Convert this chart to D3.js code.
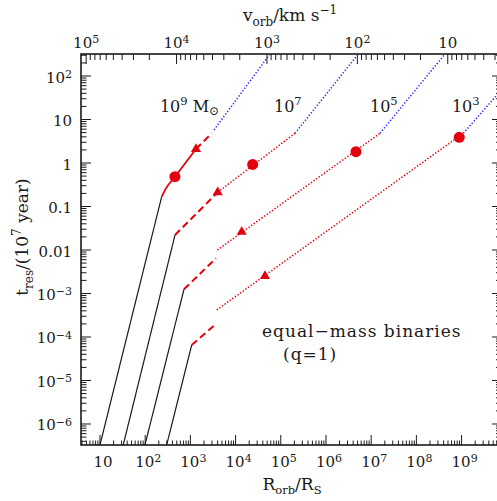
<!DOCTYPE html>
<html><head><meta charset="utf-8">
<script src="https://cdn.jsdelivr.net/npm/d3@7"></script>
<style>
html,body{margin:0;padding:0;background:#fff;}
svg{display:block;font-family:"DejaVu Serif",serif;}
</style></head><body>
<svg id="chart" width="497" height="501"></svg>
<script>
// Residence time t_res (units of 1e7 yr) against orbital separation R_orb/R_S
// for equal-mass black-hole binaries of total mass 1e9, 1e7, 1e5, 1e3 Msun.
const massExponents = [9, 7, 5, 3];

// gravitational-wave dominated inspiral (black, solid)
const gwTrack = [
  [[10, 3.3e-7], [232, 0.168]],
  [[32.7, 3.3e-7], [456, 0.0221]],
  [[99, 3.3e-7], [721, 1.25e-3]],
  [[299, 3.3e-7], [1069, 6.55e-5]]
];
// 1e9 Msun: disc-driven stage drawn solid
const solidTrack9 = [[232, 0.168], [282, 0.251], [456, 0.484], [1330, 2.10]];
// disc-driven stage (red, dashed)
const dashedTrack = [
  [[1330, 2.10], [2958, 4.82]],
  [[456, 0.0221], [4018, 0.212]],
  [[721, 1.25e-3], [3681, 6.44e-3]],
  [[1069, 6.55e-5], [3681, 1.99e-4]]
];
// outer disc stage (red, dotted)
const dottedTrack = [
  [],
  [[4018, 0.212], [2.06e5, 4.82]],
  [[3936, 0.01], [1.567e7, 4.82]],
  [[3819, 4.18e-4], [1.09e9, 4.82]]
];
// beyond the disc (blue, dotted)
const outerTrack = [
  [[3327, 5.74], [63100, 364]],
  [[2.06e5, 4.82], [6.3e6, 414]],
  [[1.567e7, 4.82], [5.6e8, 450]],
  [[1.09e9, 4.82], [1e10, 66]]
];
const circlePoints = [[456, 0.484], [23880, 0.93], [4.61e6, 1.82], [8.89e8, 3.9]];
const trianglePoints = [[1330, 2.10], [4018, 0.212], [13650, 0.026], [44670, 2.52e-3]];
// where each mass label starts (R, t of its baseline)
const massLabelAnchor = [[212, 15.1], [70800, 15.1], [9.4e6, 15.1], [6.1e8, 15.1]];

// axis decades
const rTickExps = [1, 2, 3, 4, 5, 6, 7, 8, 9];
const tTickExps = [2, 1, 0, -1, -2, -3, -4, -5, -6];
const vTickExps = [5, 4, 3, 2, 1];

// orbital speed for a given R/R_S (km/s)
const C_KMS = 2.998e5, V_K = 0.55;
const vOf = R => C_KMS * Math.sqrt(V_K / R);

const L = 81, Rt = 501, T = 54, B = 445;
const svg = d3.select("#chart");
const x = d3.scaleLog().domain([10 ** 0.580, 10 ** 9.872]).range([L, Rt]);
const y = d3.scaleLog().domain([10 ** -6.483, 10 ** 2.506]).range([B, T]);
const xv = d3.scaleLog().domain([vOf(x.domain()[0]), vOf(x.domain()[1])]).range([L, Rt]);

const RED = "#e3000f", BLUE = "#2f2fff", INK = "#1a1a1a";

svg.append("defs").append("clipPath").attr("id", "plot")
  .append("rect").attr("x", L).attr("y", T).attr("width", Rt - L).attr("height", B - T);

function logTicks(scale) {
  const [a, b] = d3.extent(scale.domain());
  const out = [];
  for (let d = Math.floor(Math.log10(a)) - 1; d <= Math.ceil(Math.log10(b)); d++)
    for (let k = 1; k <= 9; k++) {
      const v = k * 10 ** d;
      if (v >= a * 0.9999 && v <= b * 1.0001) out.push({ v, major: k === 1 });
    }
  return out;
}

const g = svg.append("g");
// ticks
const tk = g.append("g").attr("stroke", INK).attr("stroke-width", 1);
logTicks(x).forEach(t => {
  tk.append("line").attr("x1", x(t.v)).attr("x2", x(t.v)).attr("y1", B).attr("y2", B - (t.major ? 10 : 4.5));
});
logTicks(xv).forEach(t => {
  tk.append("line").attr("x1", xv(t.v)).attr("x2", xv(t.v)).attr("y1", T).attr("y2", T + (t.major ? 10 : 6));
});
logTicks(y).forEach(t => {
  tk.append("line").attr("y1", y(t.v)).attr("y2", y(t.v)).attr("x1", L).attr("x2", L + (t.major ? 10 : 5.5));
  tk.append("line").attr("y1", y(t.v)).attr("y2", y(t.v)).attr("x1", Rt).attr("x2", Rt - (t.major ? 9 : 5));
});
// frame
g.append("rect").attr("x", L).attr("y", T).attr("width", Rt - L).attr("height", B - T)
  .attr("fill", "none").attr("stroke", INK).attr("stroke-width", 1.6);

// tick labels
function powLabel(sel, e) {
  const plain = { 0: "1", 1: "10", [-1]: "0.1", [-2]: "0.01" };
  if (plain[e] !== undefined) { sel.text(plain[e]); return; }
  sel.append("tspan").text("10");
  sel.append("tspan").attr("dy", "-0.45em").attr("font-size", 11).text(String(e).replace("-", "\u2212"));
}
const lab = g.append("g").attr("font-size", 15).attr("fill", INK);
rTickExps.forEach(e => {
  powLabel(lab.append("text").attr("x", x(10 ** e) + 3).attr("y", 467).attr("text-anchor", "middle"), e);
});
vTickExps.forEach(e => {
  powLabel(lab.append("text").attr("x", xv(10 ** e)).attr("y", 48).attr("text-anchor", "middle"), e);
});
tTickExps.forEach(e => {
  powLabel(lab.append("text").attr("x", 72).attr("y", y(10 ** e) + 6.5).attr("text-anchor", "end"), e);
});

// axis titles
const tt = g.append("g").attr("font-size", 17).attr("fill", INK);
{
  const t = tt.append("text").attr("x", 290).attr("y", 21).attr("text-anchor", "middle");
  t.append("tspan").text("v");
  t.append("tspan").attr("dy", 5).attr("font-size", 12).text("orb");
  t.append("tspan").attr("dy", -5).text("/km s");
  t.append("tspan").attr("dy", -7).attr("font-size", 12).text("\u22121");
}
{
  const t = tt.append("text").attr("x", 292).attr("y", 490).attr("text-anchor", "middle");
  t.append("tspan").text("R");
  t.append("tspan").attr("dy", 4).attr("font-size", 11.5).text("orb");
  t.append("tspan").attr("dy", -4).text("/R");
  t.append("tspan").attr("dy", 4).attr("font-size", 11.5).text("S");
}
{
  const t = tt.append("text").attr("transform", "translate(28,237) rotate(-90)").attr("text-anchor", "middle");
  t.append("tspan").text("t");
  t.append("tspan").attr("dy", 5).attr("font-size", 12).text("res");
  t.append("tspan").attr("dy", -5).text("/(10");
  t.append("tspan").attr("dy", -7).attr("font-size", 12).text("7");
  t.append("tspan").attr("dy", 7).text(" year)");
}

// tracks
const plot = svg.append("g").attr("clip-path", "url(#plot)");
const line = d3.line().x(d => x(d[0])).y(d => y(d[1]));
const smooth = d3.line().x(d => x(d[0])).y(d => y(d[1])).curve(d3.curveMonotoneX);

outerTrack.forEach(s => plot.append("path").attr("d", line(s)).attr("fill", "none")
  .attr("stroke", BLUE).attr("stroke-width", 1.5).attr("stroke-dasharray", "1.4,1.8"));
dottedTrack.filter(s => s.length).forEach(s => plot.append("path").attr("d", line(s)).attr("fill", "none")
  .attr("stroke", RED).attr("stroke-width", 1.5).attr("stroke-dasharray", "1.4,1.8"));
dashedTrack.forEach(s => plot.append("path").attr("d", line(s)).attr("fill", "none")
  .attr("stroke", RED).attr("stroke-width", 2).attr("stroke-dasharray", "7,4"));
plot.append("path").attr("d", smooth(solidTrack9)).attr("fill", "none")
  .attr("stroke", RED).attr("stroke-width", 1.8);
gwTrack.forEach(s => plot.append("path").attr("d", line(s)).attr("fill", "none")
  .attr("stroke", INK).attr("stroke-width", 1.2));

plot.selectAll("circle.m").data(circlePoints).join("circle")
  .attr("cx", d => x(d[0])).attr("cy", d => y(d[1])).attr("r", 5.5).attr("fill", RED);
plot.selectAll("path.tri").data(trianglePoints).join("path").attr("class", "tri")
  .attr("transform", d => `translate(${x(d[0])},${y(d[1])})`)
  .attr("d", d3.symbol(d3.symbolTriangle, 44)).attr("fill", RED);

// mass labels
const ml = g.append("g").attr("font-size", 16).attr("fill", INK);
massExponents.forEach((e, i) => {
  const [r, t] = massLabelAnchor[i];
  const tx = ml.append("text").attr("x", x(r)).attr("y", y(t));
  tx.append("tspan").text("10");
  tx.append("tspan").attr("dy", -7).attr("font-size", 11.5).text(e);
  if (i === 0) {
    tx.append("tspan").attr("dy", 7).text("  M");
    tx.append("tspan").attr("dy", 3).attr("font-size", 12).text("\u2299");
  }
});

// annotation
const an = g.append("g").attr("font-size", 17).attr("fill", INK);
an.append("text").attr("x", 262).attr("y", 337).attr("letter-spacing", 1).text("equal\u2212mass binaries");
an.append("text").attr("x", 283).attr("y", 360).attr("letter-spacing", 1).text("(q=1)");
</script>
</body></html>
